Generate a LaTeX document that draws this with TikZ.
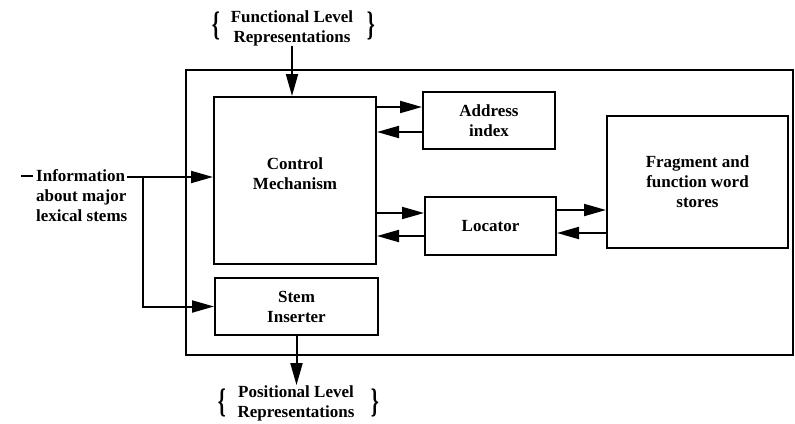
\documentclass[tikz,border=0pt]{standalone}
\usepackage{fontspec}
\setmainfont{Liberation Serif}
\usetikzlibrary{arrows.meta}
\newcommand{\bigLbrace}{\scalebox{1.2}[2.0]{\{}}
\newcommand{\bigRbrace}{\scalebox{1.2}[2.0]{\}}}
\begin{document}
\begin{tikzpicture}[x=1pt,y=-1pt,
  box/.style={draw,line width=2pt,inner sep=0pt,align=center},
  lbl/.style={inner sep=0pt,align=center},
  arr/.style={line width=2pt,-{Triangle[length=22pt,width=12pt]}},
  brc/.style={inner sep=0pt}]
\useasboundingbox (0,0) rectangle (795,423);
\fontsize{17}{20}\selectfont\bfseries
% outer frame
\node[box,minimum width=607pt,minimum height=285pt] (outer) at (489,212.5) {};
% blocks
\node[box,minimum width=162pt,minimum height=167pt] (control) at (295,180.5) {};
\node[lbl] (controltxt) at (295,174) {Control\\Mechanism};
\node[box,fill=white,minimum width=132pt,minimum height=57pt] (address) at (489,120.5) {Address\\index};
\node[box,fill=white,minimum width=131pt,minimum height=58pt] (locator) at (490.5,226) {Locator};
\node[box,fill=white,minimum width=181pt,minimum height=132pt] (frag) at (697.5,182) {Fragment and\\function word\\stores};
\node[box,fill=white,minimum width=163pt,minimum height=57pt] (stem) at (296.5,306.5) {Stem\\Inserter};
% top input
\node[lbl] (func) at (292,28) {Functional Level\\Representations};
\node[brc] (funclb) at (216,26) {\bigLbrace};
\node[brc] (funcrb) at (371,26) {\bigRbrace};
\draw[arr] (func.south) -- (func.south |- control.north);
% bottom output
\node[lbl] (pos) at (296,403) {Positional Level\\Representations};
\node[brc] (poslb) at (222,403) {\bigLbrace};
\node[brc] (posrb) at (375,403) {\bigRbrace};
\draw[arr] (stem.south) -- (stem.south |- pos.north);
% information input
\node[lbl,align=left,anchor=north west] (info) at (36,169) {\llap{\rule[0.22em]{12pt}{2pt}\hspace{3pt}}Information\\about major\\lexical stems};
\coordinate (infoout) at (127,177);
\coordinate (branch) at (143,177);
\draw[arr] (infoout) -- (control.west |- infoout);
\draw[arr] (branch) -- (branch |- stem.west) -- (stem.west);
% control <-> address
\draw[arr] (control.east |- 0,107) -- (address.west |- 0,107);
\draw[arr] (address.west |- 0,132) -- (control.east |- 0,132);
% control <-> locator
\draw[arr] (control.east |- 0,213) -- (locator.west |- 0,213);
\draw[arr] (locator.west |- 0,236) -- (control.east |- 0,236);
% locator <-> fragment
\draw[arr] (locator.east |- 0,210) -- (frag.west |- 0,210);
\draw[arr] (frag.west |- 0,233) -- (locator.east |- 0,233);
\end{tikzpicture}
\end{document}
